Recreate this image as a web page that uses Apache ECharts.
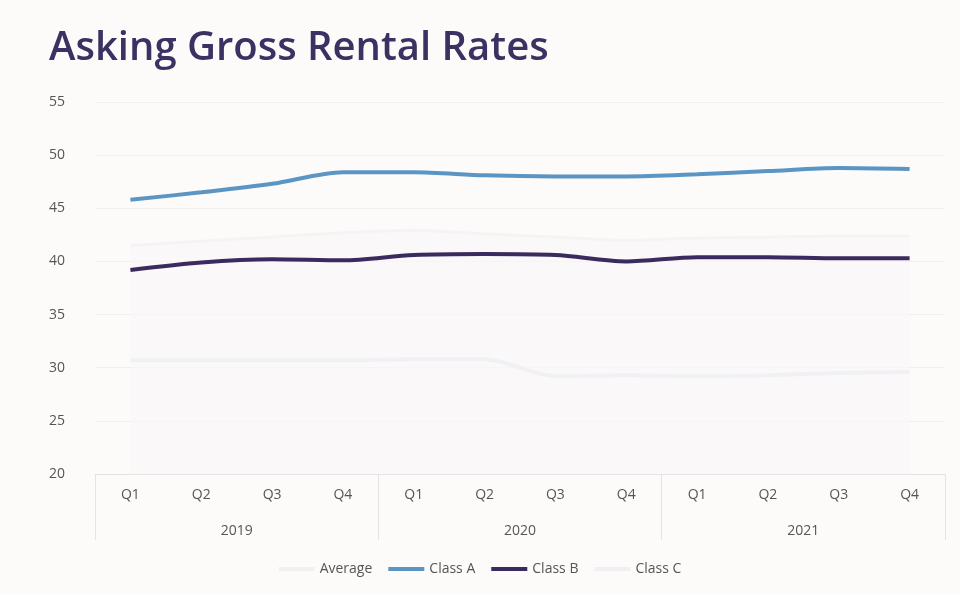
<!DOCTYPE html><html><head><meta charset="utf-8"><script src="https://cdn.jsdelivr.net/npm/echarts@6/dist/echarts.min.js"></script>
<style>body{margin:0;background:#fcfbfa}#c{width:960px;height:595px}</style></head><body><div id="c"></div><script>
const quarters=['Q1','Q2','Q3','Q4','Q1','Q2','Q3','Q4','Q1','Q2','Q3','Q4'];
const years=['2019','2020','2021'];
const average=[41.5,41.9,42.3,42.7,42.9,42.6,42.3,42.0,42.2,42.3,42.4,42.4];
const classA=[45.8,46.5,47.3,48.4,48.4,48.1,48.0,48.0,48.2,48.5,48.8,48.7];
const classB=[39.2,39.9,40.2,40.1,40.6,40.7,40.6,40.0,40.4,40.4,40.3,40.3];
const classC=[30.7,30.7,30.7,30.7,30.8,30.8,29.2,29.3,29.2,29.3,29.5,29.6];
const ch=echarts.init(document.getElementById('c'));
const lab={color:'#555',fontSize:14,fontFamily:'Open Sans'};
ch.setOption({
backgroundColor:'#fcfbfa',
title:{text:'Asking Gross Rental Rates',left:44,top:24,textStyle:{fontFamily:'Open Sans',fontSize:40,fontWeight:600,color:'#3b3163'}},
legend:{bottom:14,left:'center',itemWidth:36,itemHeight:4,itemGap:16,textStyle:lab,icon:'rect',
 data:['Average','Class A','Class B','Class C']},
grid:{left:95,right:15,top:102,bottom:121},
xAxis:[{type:'category',data:quarters,axisLine:{lineStyle:{color:'#e6e3e3'}},axisTick:{show:false},axisLabel:Object.assign({margin:14},lab)},
{type:'category',data:years,position:'bottom',axisLine:{show:false},axisTick:{show:true,length:66,lineStyle:{color:'#e6e3e3'}},axisLabel:Object.assign({margin:50},lab)}],
yAxis:{type:'value',min:20,max:55,interval:5,axisLabel:Object.assign({margin:30},lab),splitLine:{lineStyle:{color:'#f1eeee'}}},
series:[
{name:'Average',type:'line',data:average,smooth:0.3,symbol:'none',lineStyle:{color:'#f6f3f4',width:3},itemStyle:{color:'#f3f0f1'},areaStyle:{color:'#faf7f8',origin:'start'},z:1},
{name:'Class A',type:'line',data:classA,smooth:0.3,symbol:'none',lineStyle:{color:'#5b95c3',width:4},itemStyle:{color:'#5b95c3'}},
{name:'Class B',type:'line',data:classB,smooth:0.3,symbol:'none',lineStyle:{color:'#3a2a5e',width:4},itemStyle:{color:'#3a2a5e'}},
{name:'Class C',type:'line',data:classC,smooth:0.3,symbol:'none',lineStyle:{color:'#f0f1f4',width:4},itemStyle:{color:'#eef0f3'}}
]});
</script></body></html>
